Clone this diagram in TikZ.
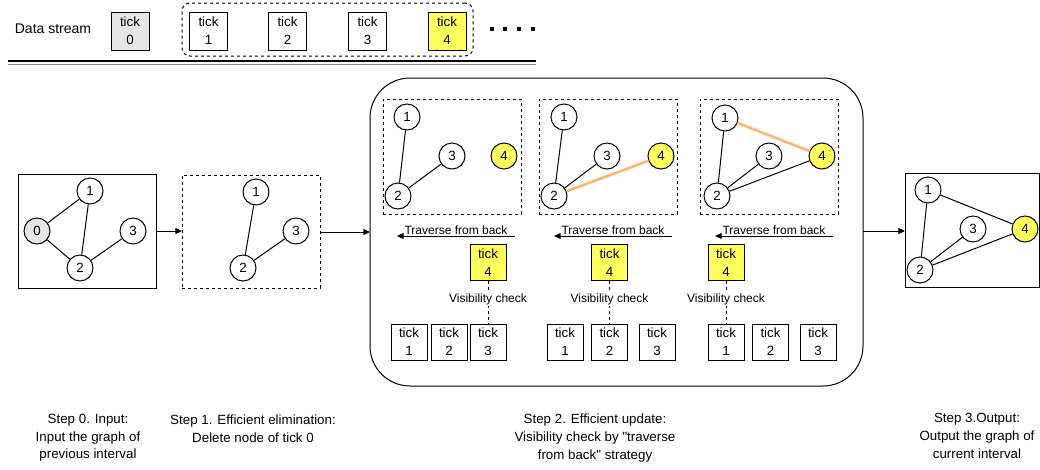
\documentclass[tikz,border=0pt]{standalone}
\usepackage{fontspec}
\setmainfont{Liberation Sans}[Ligatures=TeXOff]
\usetikzlibrary{arrows.meta}
\definecolor{yel}{HTML}{FFFF5C}
\definecolor{gry}{HTML}{E6E6E6}
\definecolor{org}{HTML}{FFB570}
\definecolor{dline}{HTML}{888888}
\tikzset{
  base/.style={line width=0.75pt},
  vtx/.style={base,draw,circle,minimum size=19.5pt,inner sep=0pt,fill=white,font=\fontsize{10}{11}\selectfont},
  yvtx/.style={vtx,fill=yel},
  gvtx/.style={vtx,fill=gry},
  tk/.style={base,draw,rectangle,minimum width=27pt,minimum height=27pt,inner sep=0pt,align=center,fill=white,font=\fontsize{10}{13.5}\selectfont},
  ytk/.style={tk,fill=yel},
  gtk/.style={tk,fill=gry},
  frame/.style={base,draw,rectangle,inner sep=0pt,outer sep=0pt},
  dframe/.style={frame,dash pattern=on 2.25pt off 2.25pt},
  edge/.style={base},
  oedge/.style={line width=1.9pt,draw=org},
  arr/.style={base,-{Triangle[length=5pt,width=4.5pt]}},
  vis/.style={base,dash pattern=on 2.25pt off 2.25pt},
  lbl/.style={font=\fontsize{9}{10}\selectfont,inner sep=1pt},
  steptxt/.style={align=center,font=\fontsize{10}{13.2}\selectfont},
  dot/.style={fill=black,minimum size=2.4pt,inner sep=0pt,rectangle}
}
\begin{document}
\begin{tikzpicture}[x=0.75pt,y=-0.75pt]
\useasboundingbox (0,0) rectangle (1040,469);
% ---- top row
\node[font=\fontsize{10.5}{12}\selectfont] (ds) at (53,29) {Data stream};
\node[gtk,minimum size=28.5pt] (s0) at (130,31) {tick\\0};
\node[dframe,rounded corners=6pt,minimum width=218.25pt,minimum height=39.75pt] (win) at (327.5,29.5) {};
\node[tk,minimum size=28.5pt] (s1) at (208.5,31) {tick\\1};
\node[tk,minimum size=28.5pt] (s2) at (287.5,31) {tick\\2};
\node[tk,minimum size=28.5pt] (s3) at (367.5,31) {tick\\3};
\node[ytk,minimum size=28.5pt] (s4) at (447,31) {tick\\4};
\node[dot] (d1) at (492,29) {};
\node[dot] (d2) at (505,29) {};
\node[dot] (d3) at (519,29) {};
\node[dot] (d4) at (533,29) {};
\coordinate (hl1) at (8,61);
\coordinate (hr1) at (536,61);
\coordinate (hl2) at (8,64.5);
\coordinate (hr2) at (536,64.5);
\draw[line width=0.9pt] (hl1) -- (hr1);
\draw[line width=1.1pt,draw=dline] (hl2) -- (hr2);
% ---- step 0
\node[frame,minimum width=103.5pt,minimum height=85.5pt] (box0) at (87,231) {};
\node[vtx] (a1) at (90,191) {1};
\node[gvtx] (a0) at (37,231) {0};
\node[vtx] (a3) at (133,231) {3};
\node[vtx] (a2) at (80,268) {2};
\draw[edge] (a0) -- (a1);
\draw[edge] (a0) -- (a2);
\draw[edge] (a1) -- (a2);
\draw[edge] (a2) -- (a3);
% ---- step 1
\node[dframe,minimum width=103.5pt,minimum height=84.75pt] (box1) at (251,231.5) {};
\node[vtx] (b1) at (256,192) {1};
\node[vtx] (b3) at (296,231) {3};
\node[vtx] (b2) at (243,268) {2};
\draw[edge] (b1) -- (b2);
\draw[edge] (b2) -- (b3);
\draw[arr] (box0.east) -- (box0.east -| box1.west);
% ---- step 2 big box
\node[frame,rounded corners=30pt,minimum width=369.75pt,minimum height=231pt] (big) at (616.5,232) {};
\draw[arr] (box1.east |- 0,232) -- (big.west);
% panel A
\node[dframe,minimum width=103.5pt,minimum height=86.25pt] (pA) at (452,156.5) {};
\node[vtx] (c1) at (407,117) {1};
\node[vtx] (c3) at (452,156) {3};
\node[yvtx] (c4) at (504,156) {4};
\node[vtx] (c2) at (398,196) {2};
\draw[edge] (c1) -- (c2);
\draw[edge] (c2) -- (c3);
\coordinate (trA1) at (515,236);
\coordinate (trA2) at (397,236);
\draw[arr] (trA1) -- node[lbl,above=0pt] {Traverse from back} (trA2);
\node[ytk] (qA) at (488,262.5) {tick\\4};
\node[tk] (uA1) at (409,342) {tick\\1};
\node[tk] (uA2) at (449,342) {tick\\2};
\node[tk] (uA3) at (488,342) {tick\\3};
\draw[vis] (qA) -- node[lbl,fill=white,pos=0.43] {Visibility check} (uA3);
% panel B
\node[dframe,minimum width=103.5pt,minimum height=86.25pt] (pB) at (608,156.5) {};
\node[vtx] (e1) at (564,117) {1};
\node[vtx] (e3) at (607,156) {3};
\node[yvtx] (e4) at (661,156) {4};
\node[vtx] (e2) at (554,196) {2};
\draw[edge] (e1) -- (e2);
\draw[edge] (e2) -- (e3);
\draw[oedge] (e2) -- (e4);
\coordinate (trB1) at (672,236);
\coordinate (trB2) at (554,236);
\draw[arr] (trB1) -- node[lbl,above=0pt] {Traverse from back} (trB2);
\node[ytk] (qB) at (609.5,262.5) {tick\\4};
\node[tk] (uB1) at (565,342) {tick\\1};
\node[tk] (uB2) at (609.5,342) {tick\\2};
\node[tk] (uB3) at (657,342) {tick\\3};
\draw[vis] (qB) -- node[lbl,fill=white,pos=0.43] {Visibility check} (uB2);
% panel C
\node[dframe,minimum width=103.5pt,minimum height=86.25pt] (pC) at (769,156.5) {};
\node[vtx] (g1) at (725,118) {1};
\node[vtx] (g3) at (769,156) {3};
\node[yvtx] (g4) at (822,156) {4};
\node[vtx] (g2) at (717,196) {2};
\draw[edge] (g1) -- (g2);
\draw[edge] (g2) -- (g3);
\draw[edge] (g2) -- (g4);
\draw[oedge] (g1) -- (g4);
\coordinate (trC1) at (833,236);
\coordinate (trC2) at (715,236);
\draw[arr] (trC1) -- node[lbl,above=0pt] {Traverse from back} (trC2);
\node[ytk] (qC) at (726,262.5) {tick\\4};
\node[tk] (uC1) at (726,342) {tick\\1};
\node[tk] (uC2) at (770.5,342) {tick\\2};
\node[tk] (uC3) at (818,342) {tick\\3};
\draw[vis] (qC) -- node[lbl,fill=white,pos=0.43] {Visibility check} (uC1);
% ---- step 3
\node[frame,minimum width=100.5pt,minimum height=85.5pt] (box3) at (972,230) {};
\draw[arr] (big.east |- 0,231) -- (box3.west |- 0,231);
\node[vtx] (f1) at (928,190) {1};
\node[vtx] (f3) at (973,229) {3};
\node[yvtx] (f4) at (1025,229) {4};
\node[vtx] (f2) at (920,270) {2};
\draw[edge] (f1) -- (f2);
\draw[edge] (f2) -- (f3);
\draw[edge] (f2) -- (f4);
\draw[edge] (f1) -- (f4);
% ---- captions
\node[steptxt] (t0) at (88,438) {Step 0. Input:\\Input the graph of\\previous interval};
\node[steptxt] (t1) at (253,429) {Step 1. Efficient elimination:\\Delete node of tick 0};
\node[steptxt] (t2) at (595,438) {Step 2. Efficient update:\\Visibility check by "traverse\\from back" strategy};
\node[steptxt] (t3) at (977,436) {Step 3.Output:\\Output the graph of\\current interval};
\end{tikzpicture}
\end{document}
